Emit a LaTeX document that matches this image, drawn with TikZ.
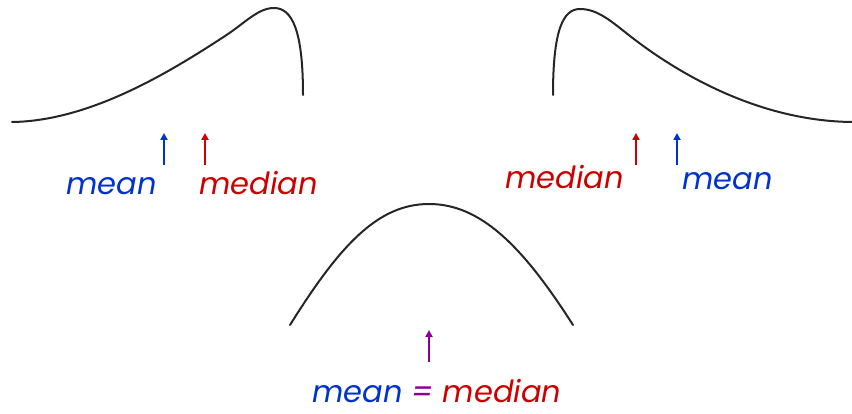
\documentclass[tikz,border=0pt]{standalone}
\usepackage{fontspec}
\setmainfont{Poppins}
\usetikzlibrary{arrows.meta}
\definecolor{mblue}{RGB}{0,51,204}
\definecolor{mred}{RGB}{204,0,0}
\definecolor{mpurple}{RGB}{140,0,150}
\tikzset{
  curve/.style={line width=2pt, black!85, line cap=round},
  ptr/.style={line width=2pt, -{Triangle[length=7pt,width=7pt]}},
  lbl/.style={font=\fontsize{30.5}{32}\selectfont\itshape, inner sep=0pt, anchor=base west}
}
\begin{document}
\begin{tikzpicture}[x=1pt,y=-1pt]
\useasboundingbox (0,0) rectangle (852,414);
% left skewed curve
\draw[curve] (12,122) .. controls (90,121) and (170,72) .. (225,36) .. controls (245,23) and (258,8) .. (274,8) .. controls (292,8) and (303,30) .. (303,95);
% right skewed curve
\draw[curve] (553,95) .. controls (553,30) and (563,9) .. (580,9) .. controls (598,9) and (612,22) .. (630,36) .. controls (680,75) and (760,121) .. (852,122);
% middle symmetric curve
\draw[curve] (290,325) .. controls (340,245) and (378,204) .. (429,204) .. controls (480,204) and (522,245) .. (573,325);
% left labels
\node[lbl, text=mblue] (lmean) at (66,195) {mean};
\node[lbl, text=mred] (lmedian) at (199,195) {median};
\coordinate (la1) at (164,165); \coordinate (la2) at (164,133);
\coordinate (lb1) at (205,165); \coordinate (lb2) at (205,133);
\draw[ptr, mblue] (la1) -- (la2);
\draw[ptr, mred] (lb1) -- (lb2);
% right labels
\node[lbl, text=mred] (rmedian) at (505,189) {median};
\node[lbl, text=mblue] (rmean) at (682,190) {mean};
\coordinate (ra1) at (636,165); \coordinate (ra2) at (636,133);
\coordinate (rb1) at (677,165); \coordinate (rb2) at (677,133);
\draw[ptr, mred] (ra1) -- (ra2);
\draw[ptr, mblue] (rb1) -- (rb2);
% middle label
\node[lbl] (mid) at (312,402) {\textcolor{mblue}{mean} \textcolor{mpurple}{=} \textcolor{mred}{median}};
\coordinate (ma1) at (429,362); \coordinate (ma2) at (429,330);
\draw[ptr, mpurple] (ma1) -- (ma2);
\end{tikzpicture}
\end{document}
